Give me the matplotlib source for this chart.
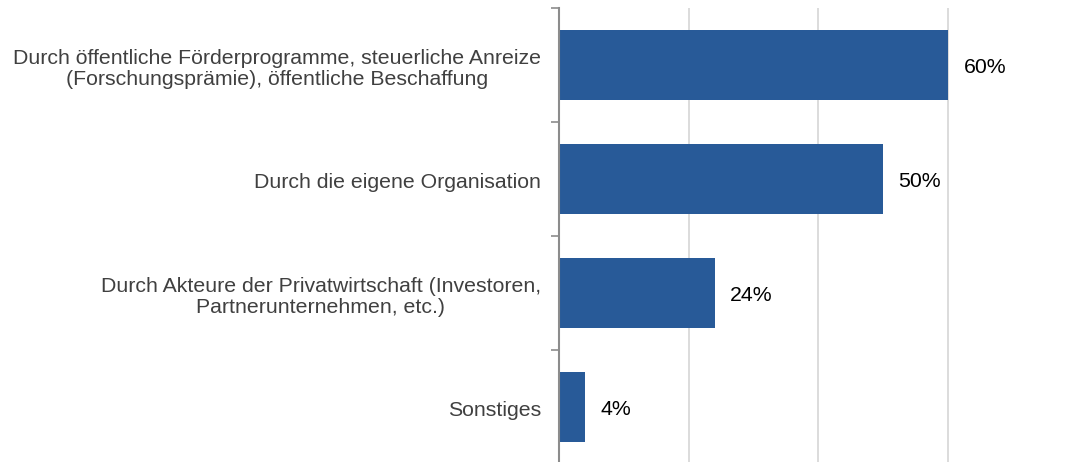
import numpy as np
import matplotlib.pyplot as plt

plt.rcParams['font.family'] = ['Liberation Sans', 'DejaVu Sans']

categories = [
    "Durch öffentliche Förderprogramme, steuerliche Anreize\n(Forschungsprämie), öffentliche Beschaffung",
    "Durch die eigene Organisation",
    "Durch Akteure der Privatwirtschaft (Investoren,\nPartnerunternehmen, etc.)",
    "Sonstiges",
]
values = [60, 50, 24, 4]

fig = plt.figure(figsize=(10.65, 4.62), dpi=100)
ax = fig.add_axes([559 / 1065, -2 / 462, 1 - 559 / 1065, 456 / 462])

y = np.arange(len(categories))
ax.barh(y, values, height=0.62, color="#285A98", zorder=3)

for yi, v in zip(y, values):
    ax.annotate(f"{v}%", (v, yi), xytext=(11, -1.5), textcoords="offset points",
                va="center", ha="left", fontsize=15.3, color="black")

ax.set_xlim(0, 78)
ax.set_ylim(len(categories) - 0.5, -0.5)
ax.set_xticks([20, 40, 60])
ax.xaxis.grid(True, color="#d9d9d9", linewidth=1.3, zorder=0)
ax.tick_params(axis="x", length=0, labelbottom=False)

# boundary ticks between categories, labels centred on each bar
ax.set_yticks(np.arange(len(categories) + 1) - 0.5)
ax.set_yticklabels([])
ax.set_yticks(y + 0.012, minor=True)
ax.set_yticklabels(categories, minor=True, fontsize=15.3, color="#404040",
                   multialignment="center", linespacing=1.1)
ax.tick_params(axis="y", which="major", length=6, width=1.2, color="#8c8c8c")
ax.tick_params(axis="y", which="minor", length=0, pad=13)

for side in ["top", "right", "bottom"]:
    ax.spines[side].set_visible(False)
ax.spines["left"].set_color("#8c8c8c")
ax.spines["left"].set_linewidth(1.5)
ax.spines["left"].set_zorder(4)

fig.savefig("out.png", dpi=100)
